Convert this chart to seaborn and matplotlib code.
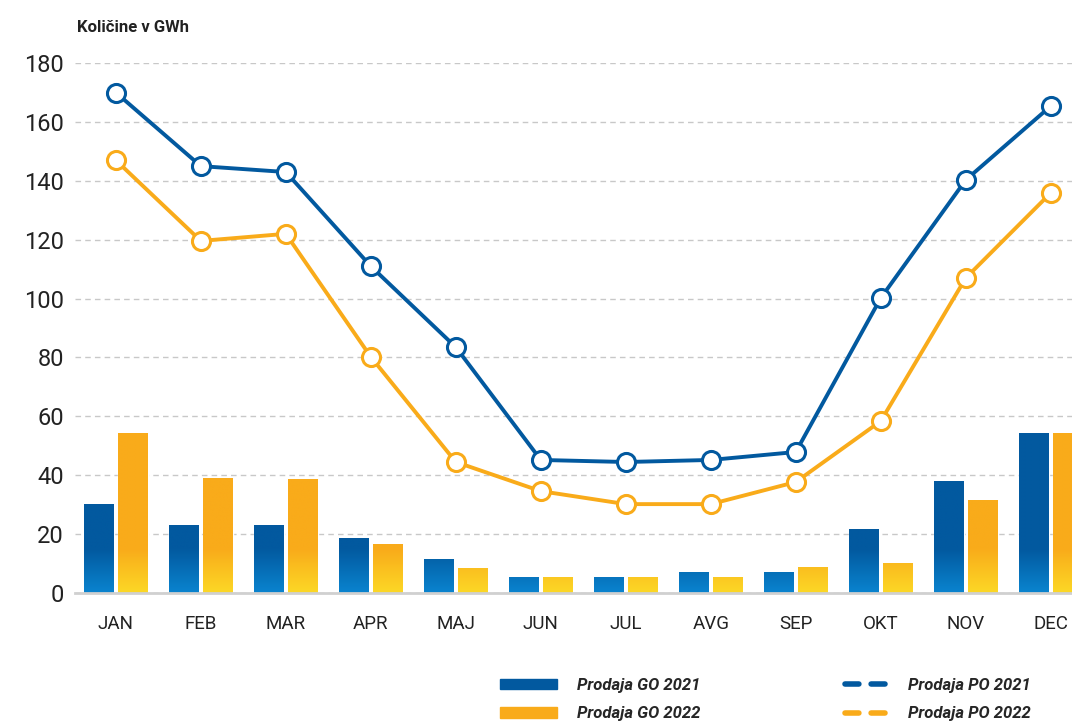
import numpy as np
import pandas as pd
import seaborn as sns
import matplotlib.pyplot as plt
from matplotlib.colors import LinearSegmentedColormap
from matplotlib.patches import Patch
from matplotlib.lines import Line2D

months = ['JAN', 'FEB', 'MAR', 'APR', 'MAJ', 'JUN', 'JUL', 'AVG', 'SEP', 'OKT', 'NOV', 'DEC']
go_2021 = [30.2, 23.1, 23.1, 18.7, 11.5, 5.4, 5.4, 7.1, 7.1, 21.7, 38.0, 54.3]
go_2022 = [54.3, 39.0, 38.7, 16.6, 8.5, 5.4, 5.4, 5.4, 8.8, 10.2, 31.6, 54.3]
po_2021 = [170, 145, 143, 111, 83.5, 45.2, 44.5, 45.2, 47.9, 100.2, 140.3, 165.4]
po_2022 = [147, 119.6, 122, 80.2, 44.5, 34.6, 30.2, 30.2, 37.7, 58.4, 107, 135.9]

blue = '#02599f'
blue_light = '#0a84cf'
orange = '#f9ab1a'
yellow = '#fcd826'

bars = pd.DataFrame({
    'mesec': months * 2,
    'vrednost': go_2021 + go_2022,
    'leto': ['Prodaja GO 2021'] * 12 + ['Prodaja GO 2022'] * 12,
})
lines = pd.DataFrame({
    'mesec': months * 2,
    'vrednost': po_2021 + po_2022,
    'leto': ['Prodaja PO 2021'] * 12 + ['Prodaja PO 2022'] * 12,
})

sns.set_theme(style='white')
plt.rcParams['font.family'] = ['Roboto', 'DejaVu Sans']

fig = plt.figure(figsize=(10.72, 7.21), dpi=100)
ax = fig.add_axes([0.07, 0.1775, 0.93, 0.735])

sns.barplot(data=bars, x='mesec', y='vrednost', hue='leto',
            palette=[blue, orange], gap=0.125, width=0.8, errorbar=None,
            legend=False, ax=ax, zorder=2)

# gradient fill on bars, fixed to the value axis (light at bottom)
grad_top = 15
ramps = [LinearSegmentedColormap.from_list('b', [blue_light, blue]),
         LinearSegmentedColormap.from_list('o', [yellow, orange])]
for i, patch in enumerate(list(ax.patches)[:24]):
    cmap = ramps[0] if i < 12 else ramps[1]
    x0, y0 = patch.get_x(), patch.get_y()
    w, h = patch.get_width(), patch.get_height()
    ys = np.linspace(0, h, 200)
    vals = np.clip(ys / grad_top, 0, 1)[::-1].reshape(-1, 1)
    im = ax.imshow(vals, cmap=cmap, vmin=0, vmax=1, aspect='auto',
                   extent=[x0, x0 + w, y0, y0 + h], zorder=2.1,
                   interpolation='bilinear')
    im.set_clip_path(patch)

n_before = len(ax.lines)
sns.lineplot(data=lines, x='mesec', y='vrednost', hue='leto',
             palette=[blue, orange], sort=False, legend=False, ax=ax,
             linewidth=2.8, marker='o', markersize=13,
             markerfacecolor='white', markeredgewidth=2.2, zorder=4)
for ln, c in zip(ax.lines[n_before:], [blue, orange]):
    ln.set_markeredgecolor(c)
    ln.set_markerfacecolor('white')

ax.set_xlim(-0.48, 11.25)
ax.set_ylim(0, 180)
ax.set_yticks(range(0, 181, 20))
ax.set_xlabel('')
ax.set_ylabel('')
ax.yaxis.grid(True, linestyle=(0, (4, 3)), color='#c8c8c8', linewidth=1, zorder=0)
ax.set_axisbelow(True)
for s in ['top', 'right', 'left']:
    ax.spines[s].set_visible(False)
ax.spines['bottom'].set_color('#d0d0d0')
ax.spines['bottom'].set_linewidth(2)
ax.spines['bottom'].set_zorder(3)
ax.tick_params(axis='y', labelsize=17, colors='#c8c8c8', labelcolor='#222222',
               length=4, width=1, pad=8, direction='in')
ax.tick_params(axis='x', labelsize=13.5, labelcolor='#222222', length=0, pad=16)

fig.text(0.072, 0.962, 'Količine v GWh', fontsize=12, fontweight='bold',
         color='#222222', ha='left', va='center')

leg_font = {'size': 12, 'weight': 'bold', 'style': 'italic'}
bar_handles = [Patch(color=blue, label='Prodaja GO 2021'),
               Patch(color=orange, label='Prodaja GO 2022')]
line_handles = [
    Line2D([], [], color=c, linewidth=4, linestyle=(0, (2.5, 2.2)),
           dash_capstyle='round', label=lab)
    for c, lab in [(blue, 'Prodaja PO 2021'), (orange, 'Prodaja PO 2022')]
]
fig.legend(handles=bar_handles, loc='upper left',
           bbox_to_anchor=(500 / 1072, 1 - 678 / 721), frameon=False,
           prop=leg_font, handlelength=3.4, handleheight=0.6,
           handletextpad=1.2, labelspacing=0.8, borderaxespad=0, borderpad=0)
fig.legend(handles=line_handles, loc='upper left',
           bbox_to_anchor=(845 / 1072, 1 - 678 / 721), frameon=False,
           prop=leg_font, handlelength=2.7, handletextpad=1.1,
           labelspacing=0.8, borderaxespad=0, borderpad=0)

fig.savefig('out.png', dpi=100)
